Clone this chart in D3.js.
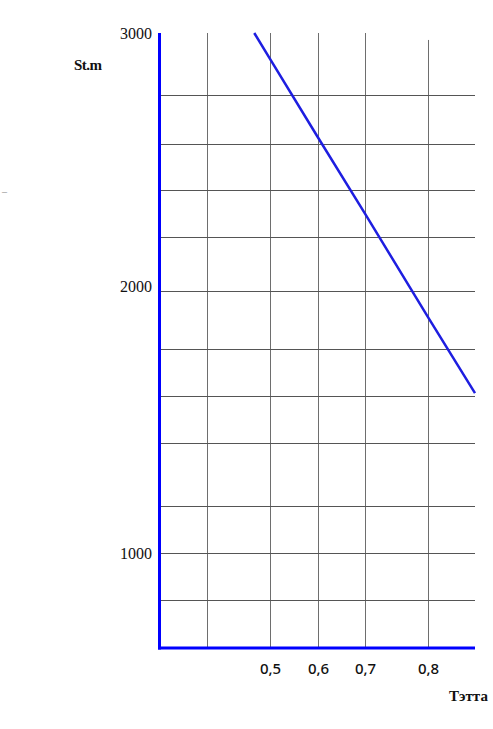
<!DOCTYPE html>
<html><head><meta charset="utf-8">
<script src="https://cdn.jsdelivr.net/npm/d3@7"></script>
<style>body{margin:0;background:#fff}svg{display:block}</style>
</head><body>
<svg id="c" width="493" height="729"></svg>
<script>
// ---- data ----
const thetaTicks = [0.5, 0.6, 0.7, 0.8];
const thetaGrid = [0.4, 0.5, 0.6, 0.7, 0.8];
const stmTicks = [1000, 2000, 3000];
const stmGrid = [820, 1000, 1180, 1420, 1600, 1780, 2000, 2210, 2390, 2570, 2760];
const theta = [0.475, 0.5, 0.6, 0.7, 0.8, 0.875];
const stm = [3000, 2900, 2595, 2300, 1900, 1610];
const xTitle = "Тэтта";
const yTitle = "St.m";

const svg = d3.select("#c");
const serif = "'Liberation Serif', 'DejaVu Serif', serif";
const sans = "'Noto Sans', 'Open Sans', sans-serif";

// piecewise scales (the hand-drawn grid is unevenly spaced)
const x = d3.scaleLinear().domain([0.3, 0.4, 0.5, 0.6, 0.7, 0.8, 0.875])
  .range([159, 207, 270, 318, 365, 428, 475]);
const y = d3.scaleLinear().domain([637, 1000, 2000, 3000])
  .range([648, 553, 291, 33]);

const xMin = 0.3, xMax = 0.875, yMin = 637, yMax = 3000;

// grid
const g = svg.append("g");
g.selectAll("line.v").data(thetaGrid).join("line")
  .attr("x1", d => Math.round(x(d)) + 0.5).attr("x2", d => Math.round(x(d)) + 0.5)
  .attr("y1", d => d === 0.8 ? y(2973) : y(yMax)).attr("y2", y(yMin))
  .attr("stroke", "#6e6e6e").attr("stroke-width", 1);
g.selectAll("line.h").data(stmGrid).join("line")
  .attr("x1", x(xMin)).attr("x2", x(xMax))
  .attr("y1", d => Math.round(y(d)) + 0.5).attr("y2", d => Math.round(y(d)) + 0.5)
  .attr("stroke", "#555").attr("stroke-width", 1);

// data line
svg.append("path").datum(theta.map((t, i) => [t, stm[i]]))
  .attr("fill", "none").attr("stroke", "#1e1ee0").attr("stroke-width", 2.5)
  .attr("d", d3.line().x(d => x(d[0])).y(d => y(d[1])));

// blue axis lines
svg.append("line").attr("x1", x(xMin) + 0.5).attr("x2", x(xMin) + 0.5)
  .attr("y1", y(yMax)).attr("y2", y(yMin) + 1.5)
  .attr("stroke", "#0000ff").attr("stroke-width", 3);
svg.append("line").attr("x1", x(xMin) - 1).attr("x2", x(xMax))
  .attr("y1", y(yMin)).attr("y2", y(yMin))
  .attr("stroke", "#0000ff").attr("stroke-width", 3);

// axes labels
const ax = svg.append("g").attr("transform", `translate(0,${y(yMin)})`)
  .call(d3.axisBottom(x).tickValues(thetaTicks).tickSize(0).tickPadding(15)
    .tickFormat(d => String(d).replace(".", ",")));
ax.select(".domain").remove();
ax.selectAll("text").attr("font-family", sans).attr("font-size", 15)
  .attr("font-weight", 500).attr("fill", "#111");

const ay = svg.append("g").attr("transform", `translate(${x(xMin) - 1},0)`)
  .call(d3.axisLeft(y).tickValues(stmTicks).tickSize(0).tickPadding(6)
    .tickFormat(d3.format("d")));
ay.select(".domain").remove();
ay.selectAll("text").attr("font-family", serif).attr("font-size", 16).attr("fill", "#111");
ay.selectAll("text").filter(d => d === 2000).attr("dy", "0.0em");

// titles
svg.append("text").attr("x", 74).attr("y", 70).text(yTitle)
  .attr("font-family", serif).attr("font-size", 15).attr("font-weight", "bold")
  .attr("letter-spacing", -0.5).attr("fill", "#111");
svg.append("text").attr("x", 449).attr("y", 701).text(xTitle)
  .attr("font-family", serif).attr("font-size", 15).attr("font-weight", "bold").attr("fill", "#111");
svg.append("text").attr("x", 2).attr("y", 195).text("–")
  .attr("font-family", serif).attr("font-size", 10).attr("fill", "#888");
</script>
</body></html>
